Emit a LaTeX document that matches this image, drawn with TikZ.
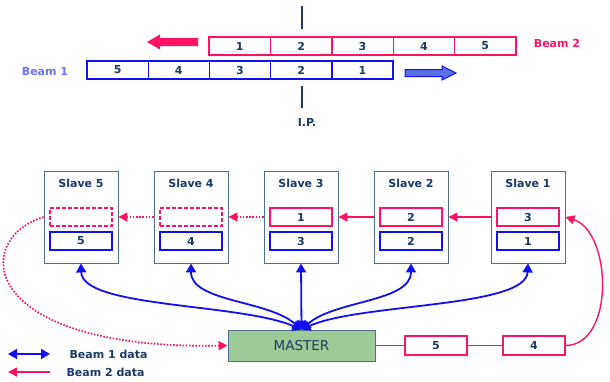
\documentclass[tikz,border=0pt]{standalone}
\usepackage{fontspec}
\setmainfont{DejaVu Sans}
\usetikzlibrary{arrows.meta}
\definecolor{navy}{HTML}{1B3A66}
\definecolor{pinkc}{HTML}{FF1166}
\definecolor{bluec}{HTML}{1010F0}
\definecolor{slate}{HTML}{4F6F8F}
\definecolor{mgreen}{HTML}{9CCB98}
\definecolor{lblue}{HTML}{6F6FF5}
\definecolor{arrblue}{HTML}{5A6FE6}
\tikzset{
  txt/.style={font=\fontsize{11}{13}\selectfont\bfseries, text=navy},
  cellp/.style={draw=pinkc, line width=1.4pt, minimum width=61.4pt, minimum height=18pt, inner sep=0pt, txt},
  cellb/.style={draw=bluec, line width=1.4pt, minimum width=61.2pt, minimum height=18pt, inner sep=0pt, txt},
  slavebox/.style={draw=slate, line width=0.9pt, fill=white, minimum width=74pt, minimum height=92pt, inner sep=0pt},
  innerp/.style={draw=pinkc, line width=1.6pt, minimum width=62pt, minimum height=18pt, inner sep=0pt, txt},
  innerpd/.style={draw=pinkc, dash pattern=on 4pt off 2pt, line width=1.1pt, minimum width=62pt, minimum height=18pt, inner sep=0pt},
  innerb/.style={draw=bluec, line width=1.8pt, minimum width=62pt, minimum height=18pt, inner sep=0pt, txt},
  pinkarr/.style={draw=pinkc, line width=1.4pt, -{Triangle[length=9pt,width=9pt]}},
  pinkdot/.style={pinkarr, line width=1.7pt, dash pattern=on 1.6pt off 1.6pt},
  bluearr/.style={draw=bluec, line width=1.8pt, {Triangle[length=9pt,width=10pt]}-{Triangle[length=9pt,width=10pt]}},
  pinkline/.style={draw=pinkc, line width=1pt},
}
\begin{document}
\begin{tikzpicture}[x=1pt,y=-1pt]
\useasboundingbox (0,0) rectangle (610,381);
% top part
\coordinate (ipa1) at (302,6); \coordinate (ipa2) at (302,29);
\coordinate (ipb1) at (302,86); \coordinate (ipb2) at (302,108);
\draw[navy, line width=1.4pt] (ipa1) -- (ipa2);
\draw[navy, line width=1.4pt] (ipb1) -- (ipb2);
\node[txt] (ip) at (307,122) {I.P.};
\foreach \n [count=\k from 0] in {1,2,3,4,5}
  \node[cellp] (p\n) at (239.7+61.4*\k,46) {\n};
\foreach \n [count=\k from 0] in {5,4,3,2,1}
  \node[cellb] (q\n) at (117.6+61.2*\k,70) {\n};
\node[txt, text=pinkc] (beam2) at (557,43) {Beam 2};
\node[txt, text=lblue] (beam1) at (45,72) {Beam 1};
\fill[pinkc] (198,38) -- (160,38) -- (160,34.5) -- (147,42) -- (160,49.5) -- (160,46) -- (198,46) -- cycle;
\filldraw[fill=arrblue, draw=bluec, line width=1pt] (405,69.5) -- (442,69.5) -- (442,66) -- (456,73) -- (442,80) -- (442,76.5) -- (405,76.5) -- cycle;
% slaves
\foreach \i/\x/\b in {5/81/5, 4/191/4, 3/301/3, 2/411/2, 1/528/1}{
  \node[slavebox] (s\i) at (\x,217) {};
  \node[txt] (t\i) at (\x,183) {Slave \i};
  \node[innerb] (b\i) at (\x,241) {\b};
}
\node[innerpd] (r5) at (81,217) {};
\node[innerpd] (r4) at (191,217) {};
\node[innerp] (r3) at (301,217) {1};
\node[innerp] (r2) at (411,217) {2};
\node[innerp] (r1) at (528,217) {3};
% master
\node[draw=slate, line width=0.9pt, fill=mgreen, minimum width=147pt, minimum height=31pt, inner sep=0pt,
      font=\fontsize{13.5}{16}\selectfont, text=navy] (m) at (301.5,345.5) {MASTER};
\node[innerp, line width=1.4pt, minimum height=19pt] (c5) at (436,345.5) {5};
\node[innerp, line width=1.4pt, minimum height=19pt] (c4) at (534,345.5) {4};
% pink connectors
\draw[pinkline] (m.east) -- (c5.west);
\draw[pinkline] (c5.east) -- (c4.west);
\draw[pinkarr] (c4.east) .. controls (615,345) and (612,232) .. (s1.east);
\draw[pinkarr] (s1.west) -- (s2.east);
\draw[pinkarr] (s2.west) -- (s3.east);
\draw[pinkdot] (s3.west) -- (s4.east);
\draw[pinkdot] (s4.west) -- (s5.east);
\draw[pinkdot] (s5.west) .. controls (-30,240) and (-20,350) .. (m.west);
% blue connectors
\draw[bluearr] (m.north) .. controls (240,303) and (82,308) .. (s5.south);
\draw[bluearr] (m.north) .. controls (268,300) and (191,302) .. (s4.south);
\draw[bluearr] (m.north) -- (s3.south);
\draw[bluearr] (m.north) .. controls (335,300) and (411,302) .. (s2.south);
\draw[bluearr] (m.north) .. controls (360,303) and (526,308) .. (s1.south);
% legend
\coordinate (l1a) at (8,354); \coordinate (l1b) at (50,354);
\coordinate (l2a) at (8,372); \coordinate (l2b) at (50,372);
\draw[bluearr] (l1a) -- (l1b);
\draw[pinkarr] (l2b) -- (l2a);
\node[txt, anchor=west] (lg1) at (66,354) {Beam 1 data};
\node[txt, anchor=west] (lg2) at (63,372) {Beam 2 data};
\end{tikzpicture}
\end{document}
